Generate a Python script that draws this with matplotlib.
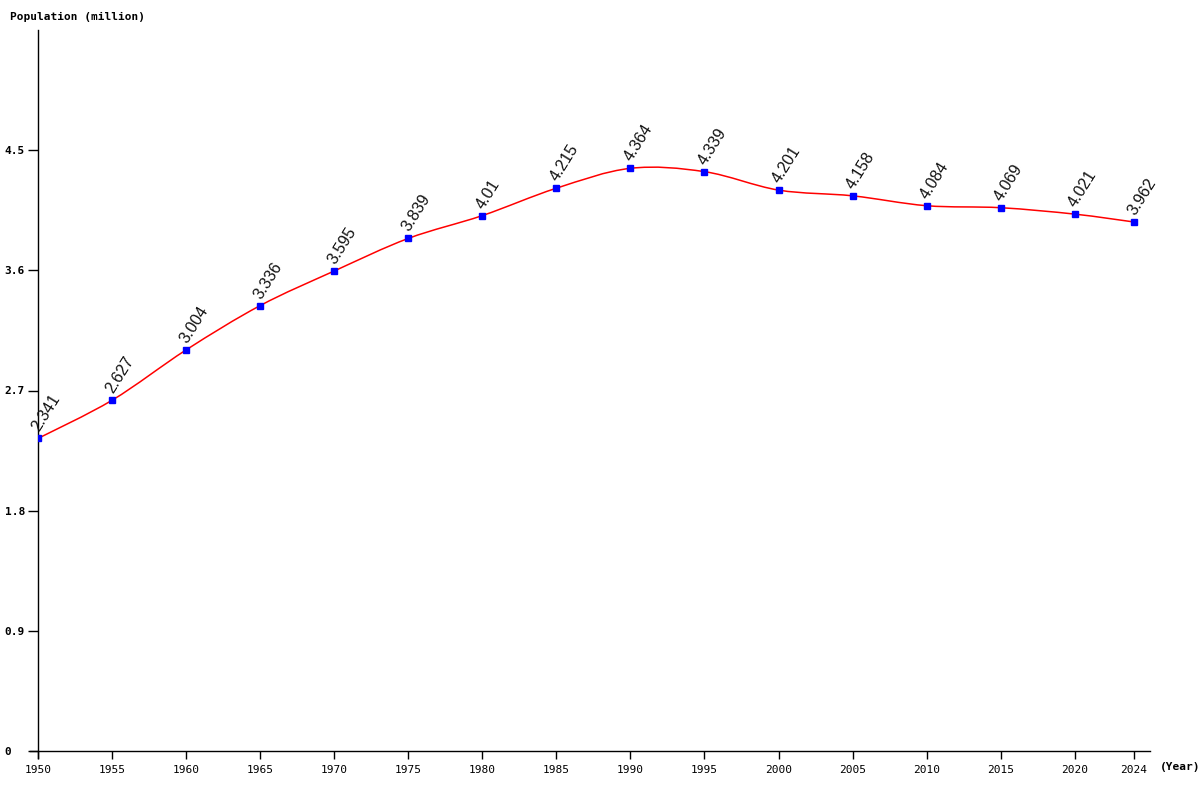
import numpy as np
import matplotlib.pyplot as plt
from matplotlib.path import Path
from matplotlib.patches import PathPatch

# data
years = [1950, 1955, 1960, 1965, 1970, 1975, 1980, 1985, 1990, 1995,
         2000, 2005, 2010, 2015, 2020, 2024]
population = [2.341, 2.627, 3.004, 3.336, 3.595, 3.839, 4.010, 4.215, 4.364,
              4.339, 4.201, 4.158, 4.084, 4.069, 4.021, 3.962]
y_ticks = [0, 0.9, 1.8, 2.7, 3.6, 4.5]
y_tick_labels = ["0", "0.9", "1.8", "2.7", "3.6", "4.5"]

mono = "DejaVu Sans Mono"

fig = plt.figure(figsize=(12, 8), dpi=100)
ax = fig.add_axes([38 / 1200, 49 / 800, 1112 / 1200, 721 / 800])
ax.set_xlim(1950, 2025.08)
ax.set_ylim(0, 5.4)

# smooth line through the points (Catmull-Rom as cubic Bezier segments)
x = np.array(years, dtype=float)
y = np.array(population)
verts = [(x[0], y[0])]
codes = [Path.MOVETO]
n = len(x)
for i in range(n - 1):
    p0 = (x[max(i - 1, 0)], y[max(i - 1, 0)])
    p1 = (x[i], y[i])
    p2 = (x[i + 1], y[i + 1])
    p3 = (x[min(i + 2, n - 1)], y[min(i + 2, n - 1)])
    c1 = (p1[0] + (p2[0] - p0[0]) / 6, p1[1] + (p2[1] - p0[1]) / 6)
    c2 = (p2[0] - (p3[0] - p1[0]) / 6, p2[1] - (p3[1] - p1[1]) / 6)
    verts += [c1, c2, p2]
    codes += [Path.CURVE4] * 3
ax.add_patch(PathPatch(Path(verts, codes), facecolor="none",
                       edgecolor="red", lw=1.1, zorder=2))

ax.plot(years, population, ls="none", marker="s", ms=4.5,
        color="blue", zorder=3)

for yr, val in zip(years, population):
    ax.annotate(f"{val:g}", (yr, val), xytext=(1, 6),
                textcoords="offset pixels", rotation=58,
                rotation_mode="anchor", ha="left", va="baseline",
                fontsize=11.5, family="Liberation Sans", color="#111111")

# axes lines
for s in ["top", "right", "left", "bottom"]:
    ax.spines[s].set_visible(False)
ax.plot([-8 / 1112, 1], [0, 0], transform=ax.transAxes, color="black",
        lw=1, clip_on=False)
ax.plot([0, 0], [-7 / 721, 1], transform=ax.transAxes, color="black",
        lw=1, clip_on=False)

ax.set_xticks(years)
ax.set_xticklabels([str(v) for v in years], family=mono, fontsize=8)
ax.set_yticks(y_ticks)
ax.set_yticklabels(y_tick_labels, family=mono, fontsize=8,
                   fontweight="bold", ha="left")
ax.tick_params(axis="x", length=6, width=1, pad=4)
ax.tick_params(axis="y", length=7, width=1, pad=17)

fig.text(10 / 1200, 1 - 17 / 800, "Population (million)", family=mono,
         fontsize=8, fontweight="bold", va="center", ha="left")
fig.text(1160 / 1200, 1 - 767 / 800, "(Year)", family=mono,
         fontsize=8, fontweight="bold", va="center", ha="left")

fig.savefig("out.png", dpi=100)
